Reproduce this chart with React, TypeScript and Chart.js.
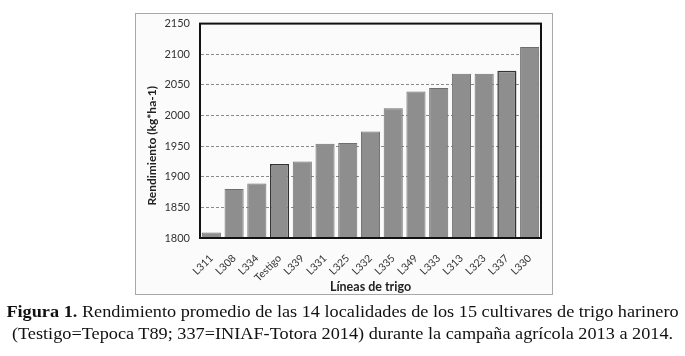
import React, { useEffect, useRef } from "react";
import { Chart, registerables } from "chart.js";

Chart.register(...registerables);

const categories = ["L311", "L308", "L334", "Testigo", "L339", "L331", "L325", "L332", "L335", "L349", "L333", "L313", "L323", "L337", "L330"];
const yields = [1809, 1880, 1889, 1921, 1925, 1954, 1955, 1974, 2012, 2039, 2045, 2068, 2068, 2073, 2112];
const highlighted = ["Testigo", "L337"];
const yMin = 1800;
const yMax = 2150;
const yStep = 50;
const yTitle = "Rendimiento (kg*ha-1)";
const xTitle = "Líneas de trigo";

const frameBorder = {
  id: "frameBorder",
  afterDraw(chart: any) {
    const { ctx, chartArea } = chart;
    ctx.save();
    ctx.strokeStyle = "#111";
    ctx.lineWidth = 2;
    ctx.strokeRect(chartArea.left, chartArea.top, chartArea.right - chartArea.left, chartArea.bottom - chartArea.top);
    // y axis title (offset downward as in the reference)
    ctx.translate(chartArea.left - 48, (chartArea.top + chartArea.bottom) / 2 + 15);
    ctx.rotate(-Math.PI / 2);
    ctx.fillStyle = "#222";
    ctx.font = "bold 12px Lato";
    ctx.textAlign = "center";
    ctx.textBaseline = "middle";
    ctx.fillText(yTitle, 0, 0);
    ctx.restore();
  },
};

export default function App() {
  const ref = useRef<HTMLCanvasElement>(null);
  useEffect(() => {
    if (!ref.current) return;
    const chart = new Chart(ref.current, {
      type: "bar",
      data: {
        labels: categories,
        datasets: [
          {
            data: yields,
            backgroundColor: "#8e8e8e",
            borderColor: categories.map((c) => (highlighted.includes(c) ? "#333" : "#6e6e6e")),
            borderWidth: categories.map((c) => (highlighted.includes(c) ? 1.5 : 1)),
            categoryPercentage: 1,
            barPercentage: 0.84,
          },
        ],
      },
      options: {
        animation: false,
        responsive: false,
        devicePixelRatio: 1,
        layout: { padding: { top: 2, right: 11, left: 0, bottom: 0 } },
        plugins: { legend: { display: false }, tooltip: { enabled: false } },
        scales: {
          x: {
            grid: { display: false },
            border: { display: false },
            ticks: {
              autoSkip: false,
              minRotation: 45,
              maxRotation: 45,
              color: "#333",
              font: { family: "Lato", size: 10.5 },
              padding: 6,
            },
            title: {
              display: true,
              text: xTitle,
              color: "#222",
              font: { family: "Lato", size: 12.5, weight: "bold" },
              padding: { top: 2, bottom: 0 },
            },
            afterFit(scale: any) {
              scale.height = 56;
            },
          },
          y: {
            min: yMin,
            max: yMax,
            ticks: {
              stepSize: yStep,
              color: "#333",
              font: { family: "Lato", size: 11 },
              padding: 10,
              callback: (v: any) => String(v),
            },
            grid: {
              color: (ctx: any) => (ctx.tick && (ctx.tick.value === yMin || ctx.tick.value === yMax) ? "rgba(0,0,0,0)" : "#8a8a8a"),
              drawTicks: false,
              lineWidth: 1,
            },
            border: { display: true, color: "rgba(0,0,0,0)", dash: [3, 2] },
            title: { display: false },
            afterFit(scale: any) {
              scale.width = 64;
            },
          },
        },
      },
      plugins: [frameBorder],
    });
    return () => chart.destroy();
  }, []);

  return (
    <div style={{ position: "fixed", left: 0, top: 0, width: 685, height: 356, background: "#fff" }}>
      <div
        style={{
          position: "absolute",
          left: 135,
          top: 13,
          width: 416,
          height: 280,
          border: "1px solid #a8a8a8",
          background: "#fbfbfb",
          overflow: "hidden",
        }}
      >
        <canvas ref={ref} width={416} height={287} style={{ display: "block", position: "absolute", left: 0, top: -7 }} />
      </div>
      <div
        style={{
          position: "absolute",
          left: 0,
          top: 301,
          width: 685,
          textAlign: "center",
          fontFamily: "'Liberation Serif', 'Times New Roman', serif",
          fontSize: 16,
          lineHeight: "22px",
          color: "#111",
          transform: "scaleX(1.14)",
          transformOrigin: "50% 50%",
          whiteSpace: "nowrap",
        }}
      >
        <b>Figura 1.</b> Rendimiento promedio de las 14 localidades de los 15 cultivares de trigo harinero
        <br />
        (Testigo=Tepoca T89; 337=INIAF-Totora 2014) durante la campaña agrícola 2013 a 2014.
      </div>
    </div>
  );
}
